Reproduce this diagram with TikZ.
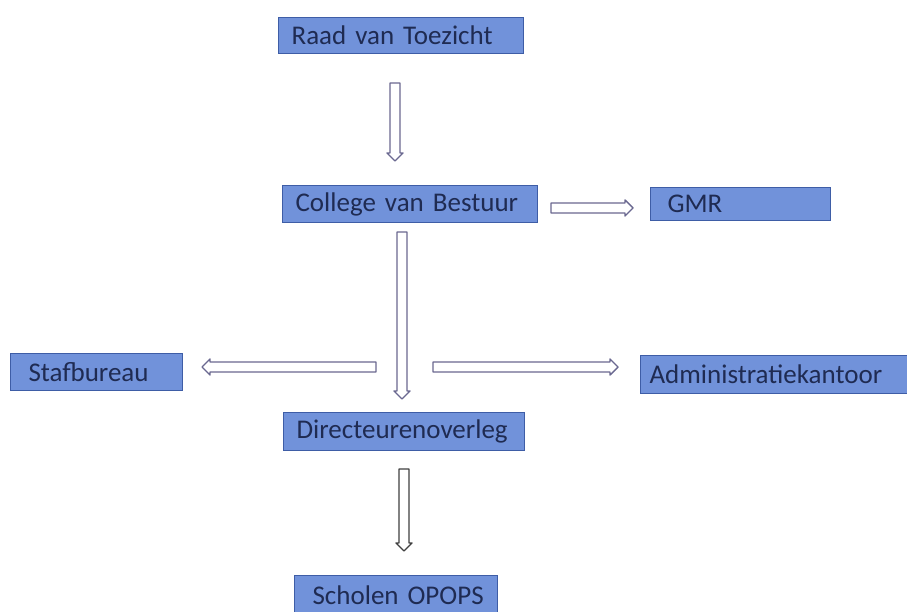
\documentclass[tikz,border=0pt]{standalone}
\usepackage{fontspec}
\setmainfont{Carlito}
\usetikzlibrary{calc}
\definecolor{boxfill}{HTML}{7192DA}
\definecolor{boxline}{HTML}{3E5DA6}
\definecolor{boxtext}{HTML}{1F2B52}
\definecolor{arrowcol}{HTML}{6A6890}
\tikzset{
  orgbox/.style={draw=boxline, line width=1.2pt, fill=boxfill, text=boxtext,
    font=\fontsize{27}{29}\selectfont, inner xsep=13pt, inner ysep=0pt,
    minimum height=36pt, align=left, anchor=north west},
  hollowline/.style={draw=arrowcol, line width=1.4pt, fill=white, line join=round}
}
% hollow block arrow from #1 to #2, options #3
\newcommand\blockarrow[3]{%
  \coordinate (hb) at ($(#2)!8pt!(#1)$);
  \draw[hollowline,#3] ($(#1)!5pt!90:(#2)$) -- ($(hb)!5pt!90:(#2)$)
    -- ($(hb)!8pt!90:(#2)$) -- (#2) -- ($(hb)!8pt!-90:(#2)$)
    -- ($(hb)!5pt!-90:(#2)$) -- ($(#1)!5pt!-90:(#2)$) -- cycle;}
\begin{document}
\begin{tikzpicture}[x=1pt,y=-1pt]
\useasboundingbox (0,0) rectangle (907,612);
\fill[white] (0,0) rectangle (907,612);
\node[orgbox, text width=219pt] (rvt) at (278,17) {Raad van Toezicht};
\node[orgbox, text width=229pt, minimum height=37pt] (cvb) at (282,185) {College van Bestuur};
\node[orgbox, text width=154pt, minimum height=33pt] (gmr) at (650,187) {\hspace*{4pt}GMR};
\node[orgbox, text width=146pt, minimum height=37pt] (staf) at (10,353) {\hspace*{5pt}Stafbureau};
\node[orgbox, text width=250pt, inner xsep=9pt, minimum height=38pt] (adm) at (640,355) {Administratiekantoor};
\node[orgbox, text width=215pt, minimum height=38pt] (dir) at (283,412) {Directeurenoverleg};
\node[orgbox, text width=195pt, inner xsep=4pt, minimum height=40pt] (sch) at (294,575) {\mbox{\hspace*{14pt}Scholen OPOPS}};
% arrow end points
\coordinate (a1s) at (395,83);  \coordinate (a1e) at (395,161);
\coordinate (a2s) at (551,208); \coordinate (a2e) at (633,208);
\coordinate (a3s) at (402,232); \coordinate (a3e) at (402,399);
\coordinate (a4s) at (376,367); \coordinate (a4e) at (202,367);
\coordinate (a5s) at (433,367); \coordinate (a5e) at (618,367);
\coordinate (a6s) at (404,469); \coordinate (a6e) at (404,551);
\blockarrow{a1s}{a1e}{}
\blockarrow{a2s}{a2e}{}
\blockarrow{a3s}{a3e}{}
\blockarrow{a4s}{a4e}{}
\blockarrow{a5s}{a5e}{}
\blockarrow{a6s}{a6e}{draw=black!75}
\end{tikzpicture}
\end{document}
